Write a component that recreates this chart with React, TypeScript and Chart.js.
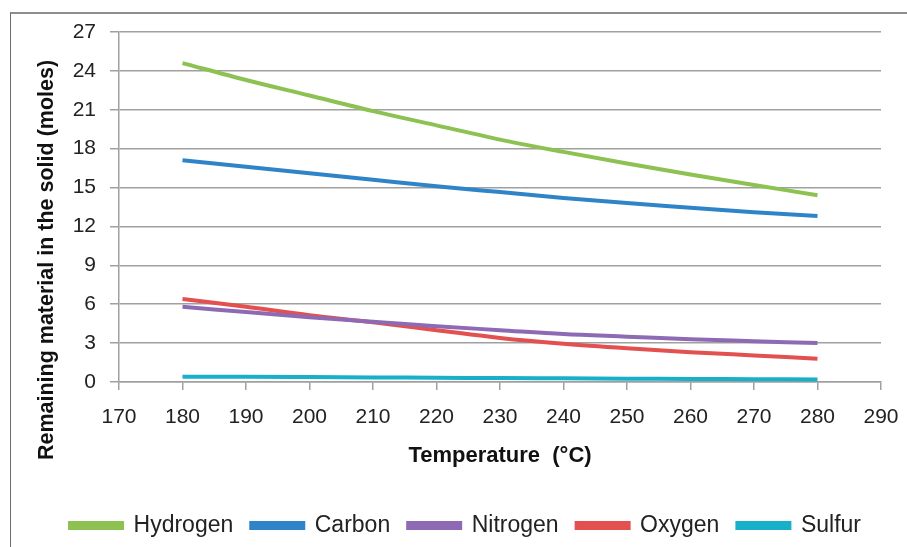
import React, { useEffect, useRef } from "react";
import { Chart, registerables } from "chart.js";

Chart.register(...registerables);

const temperatures = [180, 190, 200, 210, 220, 230, 240, 250, 260, 270, 280];
const hydrogen = [24.6, 23.3, 22.1, 20.9, 19.8, 18.7, 17.75, 16.85, 16.0, 15.2, 14.4];
const carbon = [17.1, 16.6, 16.1, 15.6, 15.1, 14.65, 14.2, 13.8, 13.45, 13.1, 12.8];
const nitrogen = [5.8, 5.4, 5.0, 4.65, 4.3, 4.0, 3.7, 3.5, 3.3, 3.15, 3.0];
const oxygen = [6.4, 5.8, 5.15, 4.6, 4.0, 3.4, 2.95, 2.6, 2.3, 2.05, 1.8];
const sulfur = [0.4, 0.4, 0.38, 0.35, 0.33, 0.3, 0.28, 0.26, 0.24, 0.22, 0.2];

const seriesNames = ["Hydrogen", "Carbon", "Nitrogen", "Oxygen", "Sulfur"];
const seriesValues = [hydrogen, carbon, nitrogen, oxygen, sulfur];
const seriesColors = ["#8dc152", "#2f84c8", "#8e6ab4", "#e2504f", "#17b0c8"];

const xTitle = "Temperature  (°C)";
const yTitle = "Remaining material in the solid (moles)";

const FONT = '"Liberation Sans", Arial, sans-serif';

const yTitlePlugin = {
  id: "yTitlePlugin",
  afterDraw(chart: any) {
    const ctx = chart.ctx;
    ctx.save();
    ctx.translate(47, 260);
    ctx.rotate(-Math.PI / 2);
    ctx.font = `bold 21.5px ${FONT}`;
    ctx.fillStyle = "#111";
    ctx.textAlign = "center";
    ctx.textBaseline = "middle";
    ctx.fillText(yTitle, 0, 0);
    ctx.restore();
  },
};

export default function App() {
  const ref = useRef<HTMLCanvasElement | null>(null);

  useEffect(() => {
    if (!ref.current) return;
    const chart = new Chart(ref.current, {
      type: "line",
      data: {
        datasets: seriesNames.map((name, i) => ({
          label: name,
          data: temperatures.map((t, j) => ({ x: t, y: seriesValues[i][j] })),
          borderColor: seriesColors[i],
          backgroundColor: seriesColors[i],
          borderWidth: 4,
          pointRadius: 0,
          cubicInterpolationMode: "monotone" as const,
          fill: false,
        })),
      },
      plugins: [yTitlePlugin],
      options: {
        animation: false,
        responsive: false,
        maintainAspectRatio: false,
        layout: { padding: { left: 50, right: 26, top: 32, bottom: 0 } },
        plugins: {
          tooltip: { enabled: false },
          legend: {
            position: "bottom",
            labels: {
              boxWidth: 52,
              boxHeight: 5,
              padding: 18,
              color: "#222",
              font: { family: FONT, size: 23 },
            },
          },
        },
        scales: {
          x: {
            type: "linear",
            min: 170,
            max: 290,
            ticks: { stepSize: 10, color: "#222", padding: 15, font: { family: FONT, size: 21 } },
            grid: { drawOnChartArea: false, drawTicks: true, tickLength: 8, color: "#a0a0a0", lineWidth: 1.5 },
            border: { color: "#a0a0a0", width: 1.5 },
            title: {
              display: true,
              text: xTitle,
              color: "#111",
              font: { family: FONT, size: 22, weight: "bold" },
              padding: { top: 0, bottom: 27 },
            },
            afterFit: (s: any) => {
              s.height = 114;
              s.paddingLeft = 0;
              s.paddingRight = 0;
            },
          },
          y: {
            min: 0,
            max: 27,
            ticks: { stepSize: 3, color: "#222", padding: 14, font: { family: FONT, size: 21 } },
            grid: { color: "#a0a0a0", lineWidth: 1.5, tickLength: 9 },
            border: { color: "#a0a0a0", width: 1.5 },
            title: { display: false },
            afterFit: (s: any) => {
              s.width = 69;
            },
          },
        },
      },
    });
    return () => chart.destroy();
  }, []);

  return (
    <div style={{ position: "fixed", left: 0, top: 0, width: 907, height: 547, overflow: "hidden", background: "#fff" }}>
      <div
        style={{
          position: "absolute",
          left: 10,
          top: 12,
          width: 1000,
          height: 700,
          borderLeft: "1px solid #6e6e6e",
          borderTop: "2px solid #8e8e8e",
        }}
      />
      <canvas ref={ref} width={907} height={547} style={{ position: "absolute", left: 0, top: 0 }} />
    </div>
  );
}
